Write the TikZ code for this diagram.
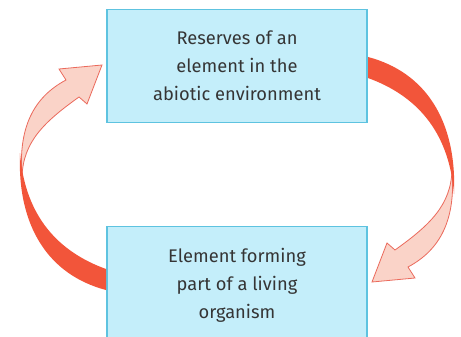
\documentclass[tikz,border=0pt]{standalone}
\usepackage{fontspec}
\setmainfont{Fira Sans}
\definecolor{boxfill}{HTML}{C4EEFA}
\definecolor{boxline}{HTML}{5EC3E0}
\definecolor{ribred}{HTML}{F2553A}
\definecolor{ribpink}{HTML}{FAD3C8}
\definecolor{ribline}{HTML}{EB6A5C}
\definecolor{txt}{HTML}{353535}
\begin{document}
\begin{tikzpicture}[x=1pt,y=-1pt,
  cyclebox/.style={draw=boxline, line width=1.1pt, fill=boxfill, minimum width=260pt,
    align=center, text=txt, font=\fontsize{18.3}{28}\selectfont, inner ysep=21.5pt, anchor=north},
  ribback/.style={fill=ribred, draw=none},
  ribfront/.style={fill=ribpink, draw=ribline, line width=0.8pt, line join=miter},
  ribbon/.pic={
    \path[ribfront] (452,170) .. controls (456,220) and (440,250) .. (408,267) -- (415,278)
      -- (372,282) -- (387,243) -- (395,250) .. controls (430,225) and (451,205) .. (452,170) -- cycle;
    \path[ribback] (368,57) .. controls (425,72) and (457,120) .. (454,194)
      .. controls (449,130) and (415,95) .. (368,78) -- cycle;
  }]
\clip (0,0) rectangle (461,337);
\fill[white] (0,0) rectangle (461,337);
\node[cyclebox] (res) at (237,9) {Reserves of an\\element in the\\abiotic environment};
\node[cyclebox] (org) at (237,226) {Element forming\\part of a living\\organism};
\pic at (0,0) {ribbon};
\pic[rotate around={180:(237,173.5)}] at (0,0) {ribbon};
\end{tikzpicture}
\end{document}
